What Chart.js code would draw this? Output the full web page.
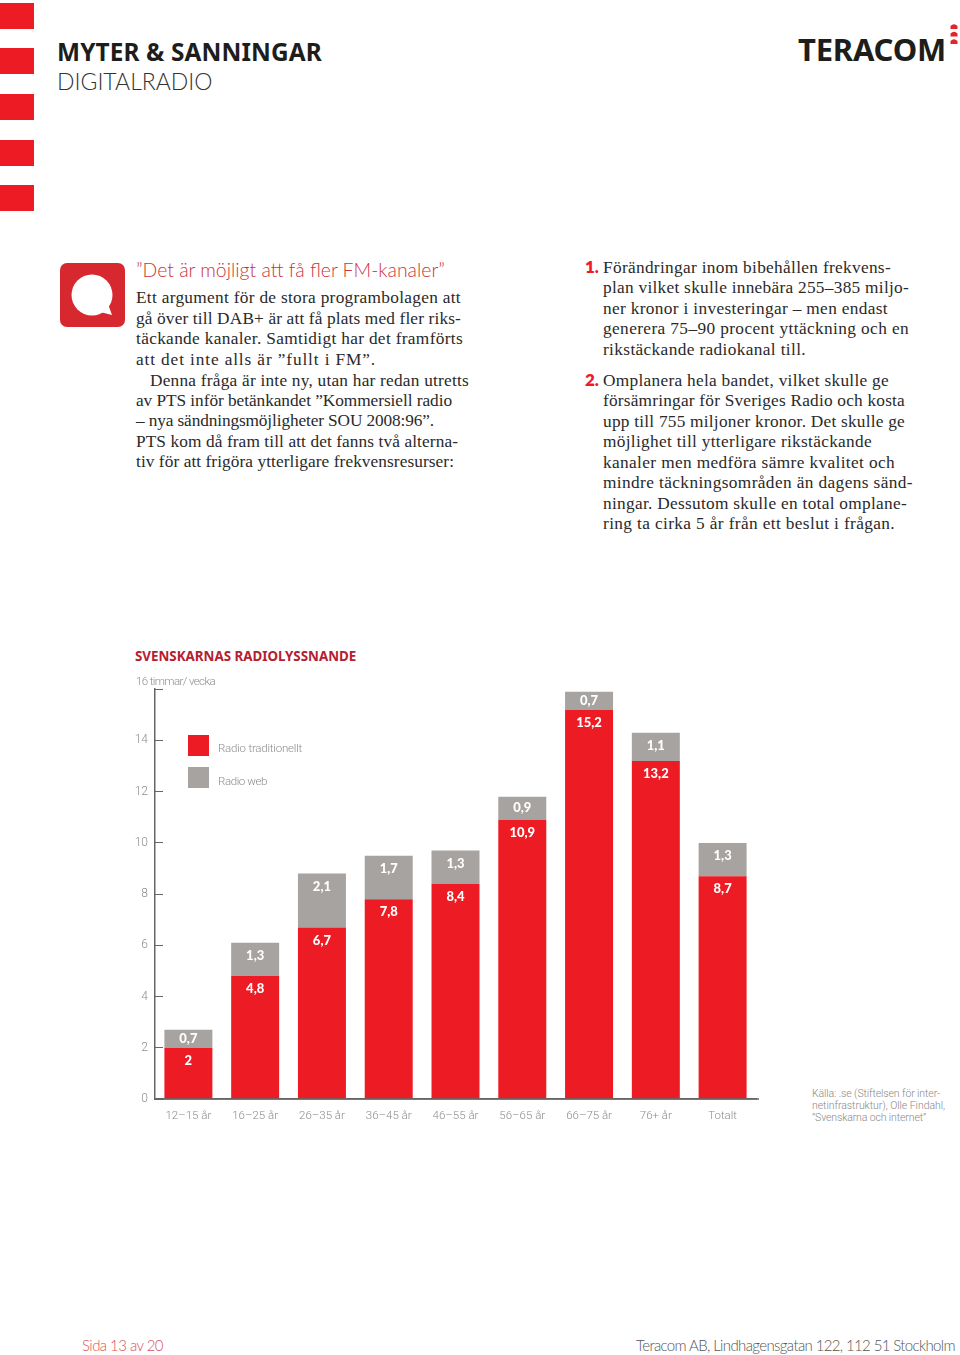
<!DOCTYPE html>
<html lang="sv">
<head>
<meta charset="utf-8">
<title>Myter & sanningar</title>
<script src="https://cdn.jsdelivr.net/npm/chart.js@4"></script>
<style>
  html, body { margin: 0; background: #fff; }
  #page { position: relative; width: 960px; height: 1355px; overflow: hidden; }
  .t { position: absolute; white-space: nowrap; transform: translateY(-50%); }
  .stripe { position: absolute; left: 0; width: 34px; height: 26px; background: #ed1c24; }
  .body { font: 17.3px "Liberation Serif", serif; color: #2a2a2a; margin-top: .5px; }
  .num { font: 800 17px Lato, sans-serif; color: #ed1c24; }
  .src { font: 300 10.5px Roboto, sans-serif; color: #888; }
  .lab { font: 300 11.5px Roboto, sans-serif; color: #8c8c8c; }
  #chartBox { position: absolute; left: 100px; top: 667px; width: 660px; height: 463px; }
  #radioChart { display: block; }
  .swatch { position: absolute; left: 188px; width: 21px; height: 21px; }
</style>
</head>
<body>
<div id="page">
  <div class="stripe" style="top:3px"></div>
  <div class="stripe" style="top:48px"></div>
  <div class="stripe" style="top:94px"></div>
  <div class="stripe" style="top:140px"></div>
  <div class="stripe" style="top:185px"></div>

  <!-- speech bubble icon -->
  <svg style="position:absolute;left:60px;top:262px" width="66" height="66" viewBox="0 0 66 66">
    <rect x="0" y="1" width="65" height="64" rx="7" fill="#d7282f"/>
    <circle cx="32" cy="33" r="20.5" fill="#fff"/>
    <path d="M40 50 L52 53 L48 42 Z" fill="#fff"/>
  </svg>

  <!-- logo dots -->
  <svg style="position:absolute;left:949px;top:22px" width="10" height="24" viewBox="0 0 10 24">
    <path d="M1.5 7 V4 Q5 0.5 8.5 4 V7 Z M1.5 14.5 V11.5 Q5 8 8.5 11.5 V14.5 Z M1.5 22 V19 Q5 15.5 8.5 19 V22 Z" fill="#e0262c"/>
  </svg>

  <div id="chartBox"><canvas id="radioChart" width="660" height="463"></canvas></div>
</div>

<script>
// Chart data
const categories = ['12–15 år', '16–25 år', '26–35 år', '36–45 år', '46–55 år', '56–65 år', '66–75 år', '76+ år', 'Totalt'];
const radioTraditional = [2, 4.8, 6.7, 7.8, 8.4, 10.9, 15.2, 13.2, 8.7];
const radioWeb = [0.7, 1.3, 2.1, 1.7, 1.3, 0.9, 0.7, 1.1, 1.3];
const seriesNames = ['Radio traditionellt', 'Radio web'];
const seriesColors = ['#ed1c24', '#a7a3a0'];
const axisMax = 16;
const axisStep = 2;

// Page text: [text, x, y, right edge]
const leftColumn = [
  ['Ett argument för de stora programbolagen att', 136, 297, 461],
  ['gå över till DAB+ är att få plats med fler riks-', 136, 318, 461],
  ['täckande kanaler. Samtidigt har det framförts', 136, 338, 463],
  ['att det inte alls är ”fullt i FM”.', 136, 359, 376],
  ['Denna fråga är inte ny, utan har redan utretts', 150, 380, 469],
  ['av PTS inför betänkandet ”Kommersiell radio', 136, 400, 452],
  ['– nya sändningsmöjligheter SOU 2008:96”.', 136, 420, 434],
  ['PTS kom då fram till att det fanns två alterna-', 136, 441, 458],
  ['tiv för att frigöra ytterligare frekvensresurser:', 136, 461, 454]
];
const rightColumn = [
  ['Förändringar inom bibehållen frekvens-', 603, 267, 891],
  ['plan vilket skulle innebära 255–385 miljo-', 603, 287, 909],
  ['ner kronor i investeringar – men endast', 603, 308, 888],
  ['generera 75–90 procent yttäckning och en', 603, 328, 909],
  ['rikstäckande radiokanal till.', 603, 349, 806],
  ['Omplanera hela bandet, vilket skulle ge', 603, 380, 889],
  ['försämringar för Sveriges Radio och kosta', 603, 400, 905],
  ['upp till 755 miljoner kronor. Det skulle ge', 603, 421, 905],
  ['möjlighet till ytterligare rikstäckande', 603, 441, 872],
  ['kanaler men medföra sämre kvalitet och', 603, 462, 895],
  ['mindre täckningsområden än dagens sänd-', 603, 482, 913],
  ['ningar. Dessutom skulle en total omplane-', 603, 503, 907],
  ['ring ta cirka 5 år från ett beslut i frågan.', 603, 523, 895]
];
const sourceLines = [
  ['Källa: .se (Stiftelsen för inter-', 812, 1093, 940],
  ['netinfrastruktur), Olle Findahl,', 812, 1105, 945],
  ['”Svenskarna och internet”', 812, 1117, 926]
];

const page = document.getElementById('page');

function addText(text, x, y, cls, style, right) {
  const el = document.createElement('div');
  el.className = 't ' + (cls || '');
  el.textContent = text;
  el.style.left = x + 'px';
  el.style.top = y + 'px';
  if (style) el.style.cssText += style;
  page.appendChild(el);
  // squeeze the line to the width it has in the reference
  if (right) {
    const w = el.getBoundingClientRect().width;
    el.style.letterSpacing = ((right - x - w) / text.length).toFixed(3) + 'px';
  }
}

addText('MYTER & SANNINGAR', 57, 51, '', 'font:700 24.4px "Noto Sans",sans-serif;color:#1d1d1b', 322);
addText('DIGITALRADIO', 57, 81, '', 'font:300 23px Lato,sans-serif;color:#333');
addText('TERACOM', 798, 49, '', 'font:700 31px "Noto Sans",sans-serif;color:#1d1d1b', 946);
addText('”Det är möjligt att få fler FM-kanaler”', 136, 269, '', 'font:300 19.4px Lato,sans-serif;color:#c8343c');
leftColumn.concat(rightColumn).forEach(l => addText(l[0], l[1], l[2], 'body', '', l[3]));
addText('1.', 585, 266, 'num');
addText('2.', 585, 379, 'num');
addText('SVENSKARNAS RADIOLYSSNANDE', 135, 656, '', 'font:700 13.35px "Noto Sans",sans-serif;color:#b5202e');
addText('16 timmar/ vecka', 136, 681, 'lab', '', 215);
sourceLines.forEach(l => addText(l[0], l[1], l[2], 'src', '', l[3]));
addText('Sida 13 av 20', 82, 1345, '', 'font:300 15px Lato,sans-serif;color:#d8525a', 163);
addText('Teracom AB, Lindhagensgatan 122, 112 51 Stockholm', 636, 1345, '', 'font:300 15px Lato,sans-serif;color:#555', 955);

// Legend sits inside the plot in the reference
[[748, 302], [781, 267]].forEach((pos, i) => {
  const box = document.createElement('div');
  box.className = 'swatch';
  box.style.top = (pos[0] - 13 + (i ? -1 : 0)) + 'px';
  box.style.background = seriesColors[i];
  page.appendChild(box);
  addText(seriesNames[i], 218, pos[0], 'lab', '', pos[1]);
});

// White value labels near the top of every bar segment
const segmentLabels = {
  id: 'segmentLabels',
  afterDatasetsDraw(chart) {
    const ctx = chart.ctx;
    ctx.save();
    ctx.fillStyle = '#fff';
    ctx.font = '900 13px Lato, sans-serif';
    ctx.textAlign = 'center';
    ctx.textBaseline = 'middle';
    chart.data.datasets.forEach((ds, d) => {
      chart.getDatasetMeta(d).data.forEach((bar, i) => {
        const h = bar.base - bar.y;
        const text = String(ds.data[i]).replace('.', ',');
        ctx.fillText(text, bar.x, bar.y + Math.min(13, h / 2));
      });
    });
    ctx.restore();
  }
};

// The baseline runs a little past the last bar
const baselineEnd = {
  id: 'baselineEnd',
  afterDraw(chart) {
    const a = chart.chartArea;
    const ctx = chart.ctx;
    ctx.save();
    ctx.strokeStyle = '#666';
    ctx.lineWidth = 1.5;
    ctx.beginPath();
    ctx.moveTo(a.left, a.bottom);
    ctx.lineTo(a.right + 3, a.bottom);
    ctx.stroke();
    ctx.restore();
  }
};

new Chart(document.getElementById('radioChart').getContext('2d'), {
  type: 'bar',
  data: {
    labels: categories,
    datasets: [
      { label: seriesNames[0], data: radioTraditional, backgroundColor: seriesColors[0] },
      { label: seriesNames[1], data: radioWeb, backgroundColor: seriesColors[1] }
    ]
  },
  options: {
    responsive: false,
    animation: false,
    devicePixelRatio: 1,
    layout: { padding: { top: 9, right: 4 } },
    barPercentage: 1,
    categoryPercentage: 0.7186,
    plugins: { legend: { display: false }, tooltip: { enabled: false } },
    scales: {
      x: {
        stacked: true,
        afterFit(scale) { scale.height = 31; },
        grid: { display: false },
        border: { color: '#666', width: 1.5 },
        ticks: { color: '#8c8c8c', font: { family: 'Roboto', size: 11.5, weight: 300 }, maxRotation: 0, autoSkip: false, padding: 2 }
      },
      y: {
        stacked: true,
        min: 0,
        max: axisMax,
        afterFit(scale) { scale.width = 55; },
        grid: { drawOnChartArea: false, tickLength: -8, tickColor: '#666', tickWidth: 1 },
        border: { color: '#666', width: 1.5 },
        ticks: {
          stepSize: axisStep,
          autoSkip: false,
          color: '#8c8c8c',
          padding: 15,
          font: { family: 'Roboto', size: 12, weight: 300 },
          callback: v => (v === axisMax ? '' : v)
        }
      }
    }
  },
  plugins: [segmentLabels, baselineEnd]
});
</script>
</body>
</html>
